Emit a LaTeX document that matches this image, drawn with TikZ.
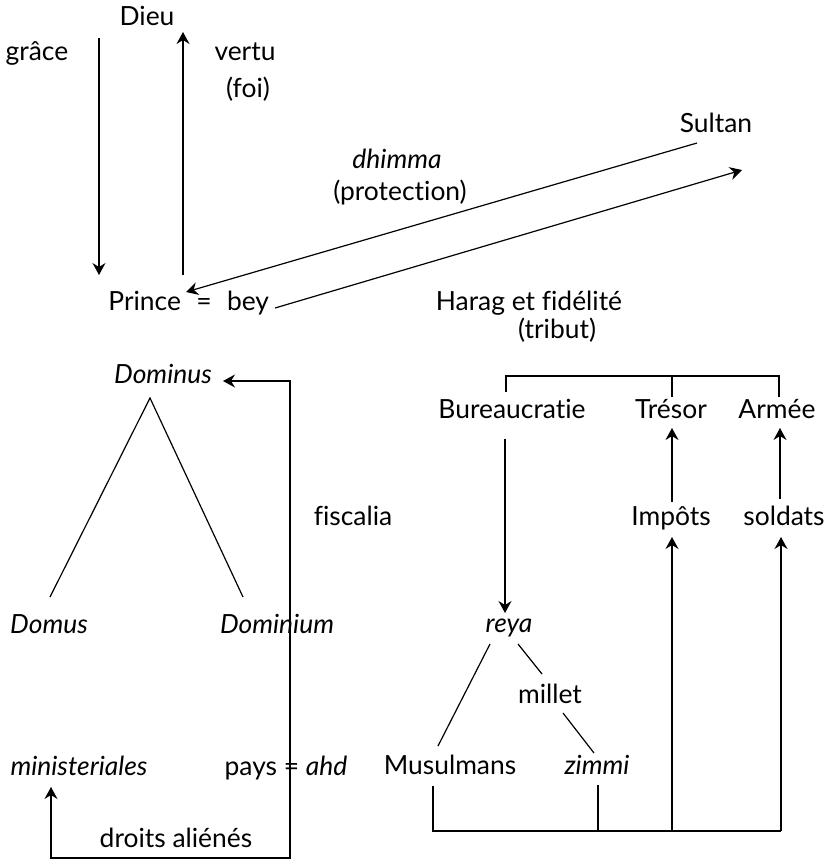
\documentclass[tikz,border=0pt]{standalone}
\usepackage{fontspec}
\setmainfont[Ligatures=NoCommon]{Lato}
\usetikzlibrary{arrows.meta}

\begin{document}
\begin{tikzpicture}[x=0.5pt,y=-0.5pt,
  lab/.style={anchor=base,inner sep=1pt,font=\fontsize{13.2}{15}\selectfont},
  it/.style={lab,font=\fontsize{13.2}{15}\selectfont\itshape},
  ln/.style={line width=0.6pt},
  arr/.style={ln,-{Stealth[length=6pt,width=6.5pt,inset=2pt]}},
  dbl/.style={ln,{Stealth[length=6pt,width=6.5pt,inset=2pt]}-{Stealth[length=6pt,width=6.5pt,inset=2pt]}}]
\useasboundingbox (0,0) rectangle (827,859);
% top: Dieu, Prince, Sultan
\node[lab] (dieu) at (147,25) {Dieu};
\node[lab] (grace) at (37,60) {grâce};
\node[lab] (vertu) at (245,60) {vertu};
\node[lab] (foi) at (248,97) {(foi)};
\node[lab] (sultan) at (716,132) {Sultan};
\node[it] (dhimma) at (397,168) {dhimma};
\node[lab] (protection) at (400,200) {(protection)};
\node[lab,anchor=base west] (prince) at (106,310) {Prince};
\node[lab] (eq) at (204,310) {=};
\node[lab] (bey) at (248,310) {bey};
\node[lab] (harag) at (529,310) {Harag et fidélité};
\node[lab] (tribut) at (557,338) {(tribut)};
\coordinate (gtop) at (99,38);   \coordinate (gbot) at (99,275);
\coordinate (vbot) at (183,275); \coordinate (vtop) at (183,32);
\coordinate (sfrom) at (697,143); \coordinate (pto) at (186,292);
\coordinate (bfrom) at (275,308); \coordinate (sto) at (742,170);
\draw[arr] (gtop) -- (gbot);
\draw[arr] (vbot) -- (vtop);
\draw[arr] (sfrom) -- (pto);
\draw[arr] (bfrom) -- (sto);
% left: Dominus
\node[it] (dominus) at (163,383) {Dominus};
\node[it] (domus) at (49,633) {Domus};
\node[it] (dominium) at (277,633) {Dominium};
\node[lab] (fiscalia) at (353,525) {fiscalia};
\node[it] (minist) at (79,775) {ministeriales};
\node[lab] (pays) at (286,775) {pays = \textit{ahd}};
\node[lab] (droits) at (176,847) {droits aliénés};
\coordinate (apex) at (150,398);
\coordinate (dl) at (50,597); \coordinate (dr) at (243,597);
\draw[ln] (dl) -- (apex) -- (dr);
\coordinate (fin) at (223,381); \coordinate (fcorner) at (290,858);
\coordinate (fout) at (51,787);
\draw[dbl] (fin) -| (fcorner) -| (fout);
% right: Bureaucratie, reya
\node[lab] (bureau) at (512,418) {Bureaucratie};
\node[lab] (tresor) at (671,418) {Trésor};
\node[lab] (armee) at (777,418) {Armée};
\node[lab] (impots) at (671,525) {Impôts};
\node[lab] (soldats) at (784,525) {soldats};
\node[it] (reya) at (509,632) {reya};
\node[lab] (millet) at (550,703) {millet};
\node[lab] (musul) at (450,774) {Musulmans};
\node[it] (zimmi) at (597,774) {zimmi};
\coordinate (tb) at (506,392); \coordinate (tt) at (672,397); \coordinate (ta) at (779,397);
\draw[ln] (tb) |- (ta |- 0,376) -- (ta);
\draw[ln] (tt |- 0,376) -- (tt);
\coordinate (bu1) at (505,439); \coordinate (re1) at (505,613);
\draw[arr] (bu1) -- (re1);
\coordinate (im1) at (672,502); \coordinate (tr1) at (672,428);
\coordinate (so1) at (780,499); \coordinate (ar1) at (780,428);
\draw[arr] (im1) -- (tr1);
\draw[arr] (so1) -- (ar1);
\coordinate (mu1) at (433,786); \coordinate (zi1) at (598,785);
\coordinate (im2) at (672,537); \coordinate (so2) at (781,537);
\draw[ln] (mu1) |- (so2 |- 0,831);
\draw[ln] (zi1) -- (zi1 |- 0,831);
\draw[arr] (im2 |- 0,831) -- (im2);
\draw[arr] (so2 |- 0,831) -- (so2);
\draw[ln] (490,644) -- (438,746);
\draw[ln] (518,644) -- (542,674);
\draw[ln] (563,713) -- (594,753);
\end{tikzpicture}
\end{document}
